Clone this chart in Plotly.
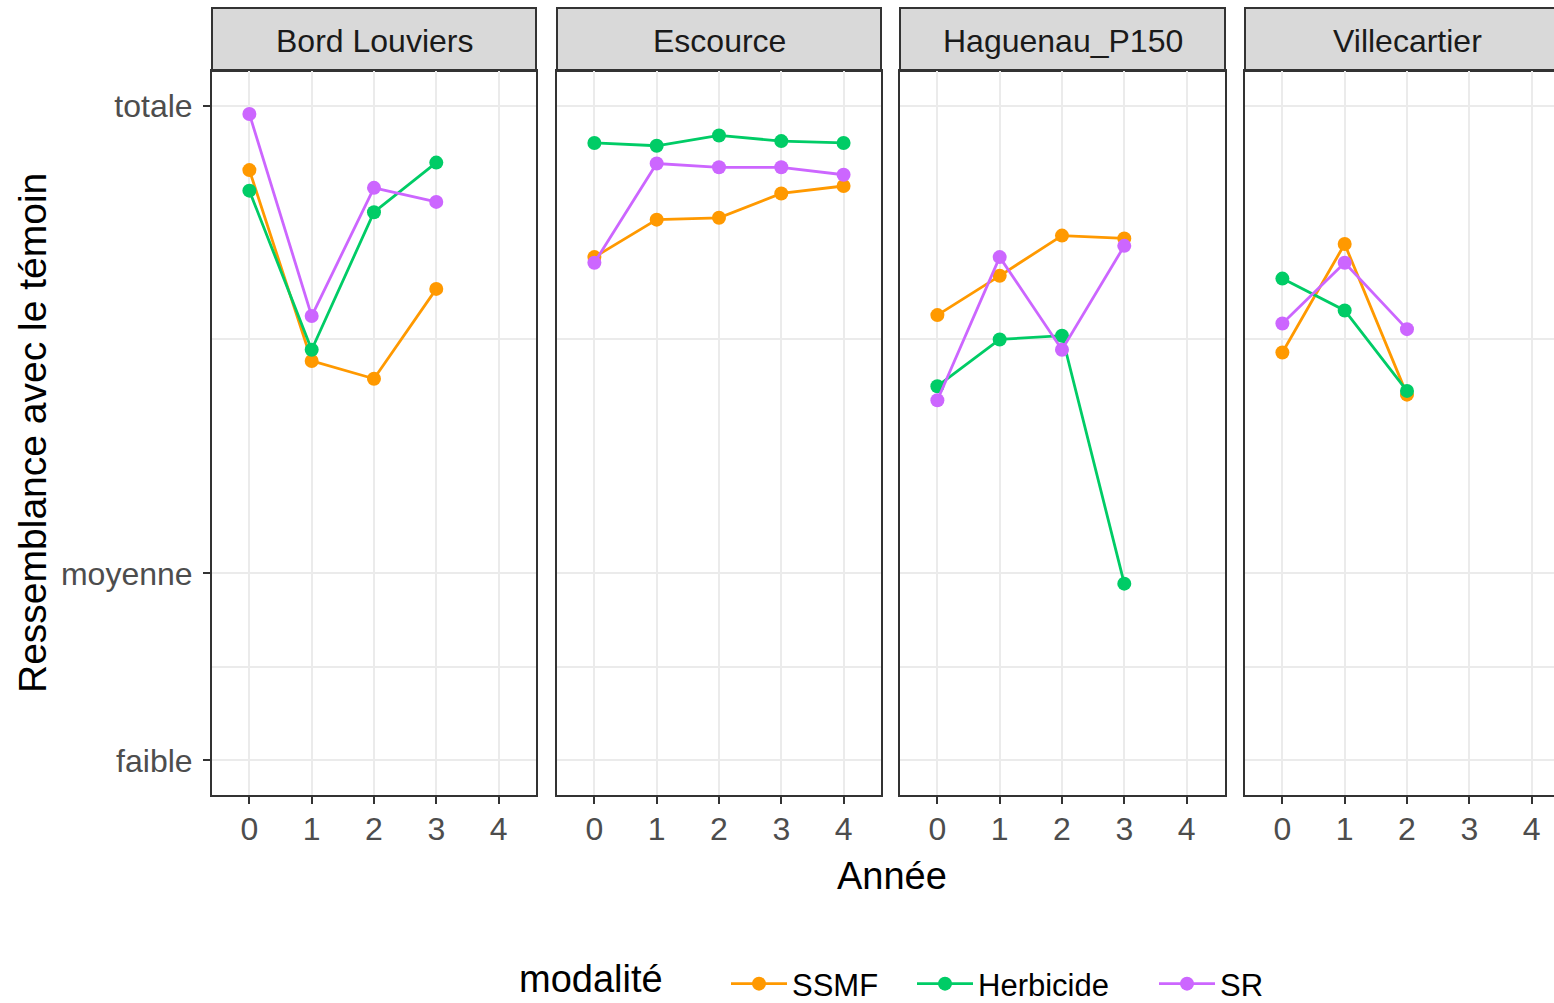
import plotly.graph_objects as go

# données
sites = ["Bord Louviers", "Escource", "Haguenau_P150", "Villecartier"]
modalites = ["SSMF", "Herbicide", "SR"]
couleurs = ["#FF9900", "#00CC66", "#CC66FF"]

annees_bord = [0, 1, 2, 3]
bord_ssmf = [0.931, 0.727, 0.708, 0.804]
bord_herbicide = [0.909, 0.739, 0.886, 0.939]
bord_sr = [0.991, 0.775, 0.912, 0.897]

annees_escource = [0, 1, 2, 3, 4]
escource_ssmf = [0.838, 0.878, 0.880, 0.906, 0.914]
escource_herbicide = [0.960, 0.957, 0.968, 0.962, 0.960]
escource_sr = [0.832, 0.938, 0.934, 0.934, 0.926]

annees_haguenau = [0, 1, 2, 3]
haguenau_ssmf = [0.776, 0.818, 0.861, 0.858]
haguenau_herbicide = [0.700, 0.750, 0.754, 0.489]
haguenau_sr = [0.685, 0.838, 0.739, 0.850]

annees_ville = [0, 1, 2]
ville_ssmf = [0.736, 0.852, 0.691]
ville_herbicide = [0.815, 0.781, 0.695]
ville_sr = [0.767, 0.832, 0.761]

annees_ticks = [0, 1, 2, 3, 4]
niveaux_vals = [0.3, 0.5, 1.0]
niveaux_labels = ["faible", "moyenne", "totale"]
niveaux_mineurs = [0.4, 0.75]

donnees = [
    (annees_bord, [bord_ssmf, bord_herbicide, bord_sr]),
    (annees_escource, [escource_ssmf, escource_herbicide, escource_sr]),
    (annees_haguenau, [haguenau_ssmf, haguenau_herbicide, haguenau_sr]),
    (annees_ville, [ville_ssmf, ville_herbicide, ville_sr]),
]

W, H = 1554, 1003
FONT = "Liberation Sans, Arial, sans-serif"
panels_px = [(212, 536), (557, 881), (900, 1225), (1245, 1569)]
px_par_an = 62.3
y_dom = [1 - 795 / H, 1 - 71 / H]
y_range = [0.2631, 1.0369]
# une légende par modalité pour placer chaque entrée comme ggplot
legendes = ["legend", "legend2", "legend3"]
legendes_x = [726, 912, 1154]
leg_y = 984

fig = go.Figure()
layout = dict(
    width=W, height=H,
    margin=dict(l=0, r=0, t=0, b=0, autoexpand=False),
    paper_bgcolor="white", plot_bgcolor="white",
    font=dict(family=FONT, color="black"),
    shapes=[], annotations=[],
)

for i, (site, (annees, series)) in enumerate(zip(sites, donnees)):
    n = "" if i == 0 else str(i + 1)
    p0, p1 = panels_px[i]
    vis = min(p1, W)
    for j, (mod, col, vals) in enumerate(zip(modalites, couleurs, series)):
        fig.add_trace(go.Scatter(
            x=annees, y=vals, mode="lines+markers", name=mod,
            legend=legendes[j], showlegend=(i == 0),
            line=dict(color=col, width=2.8),
            marker=dict(color=col, size=14),
            xaxis="x" + n, yaxis="y" + n,
        ))
    layout["xaxis" + n] = dict(
        domain=[p0 / W, vis / W], range=[-0.6, -0.6 + (vis - p0) / px_par_an],
        anchor="y" + n, tickvals=annees_ticks, ticks="outside", ticklen=7,
        tickwidth=2, tickcolor="#333333",
        tickfont=dict(size=32, color="#4D4D4D"), ticklabelstandoff=-2,
        showgrid=True, gridcolor="#EBEBEB", gridwidth=2,
        showline=True, linecolor="#333333", linewidth=2, mirror=True,
        zeroline=False,
    )
    layout["yaxis" + n] = dict(
        domain=y_dom, range=y_range, anchor="x" + n,
        tickvals=niveaux_vals, ticktext=niveaux_labels,
        showticklabels=(i == 0), ticks="outside" if i == 0 else "",
        ticklen=7, tickwidth=2, tickcolor="#333333",
        tickfont=dict(size=32, color="#4D4D4D"), ticklabelstandoff=4,
        showgrid=True, gridcolor="#EBEBEB", gridwidth=2,
        minor=dict(tickmode="array", tickvals=niveaux_mineurs, showgrid=True,
                   gridcolor="#EBEBEB", gridwidth=2),
        showline=True, linecolor="#333333", linewidth=2, mirror=(i < 3),
        zeroline=False,
    )
    # bandeau du facet
    layout["shapes"].append(dict(
        type="rect", xref="paper", yref="paper",
        x0=p0 / W, x1=p1 / W, y0=1 - 71 / H, y1=1 - 8 / H,
        fillcolor="#D9D9D9", line=dict(color="#333333", width=2), layer="below",
    ))
    layout["annotations"].append(dict(
        text=site, xref="paper", yref="paper", x=(p0 + p1) / 2 / W, y=1 - 41 / H,
        xanchor="center", yanchor="middle", showarrow=False,
        font=dict(size=32, color="#1A1A1A"),
    ))

layout["annotations"] += [
    dict(text="Ressemblance avec le témoin", xref="paper", yref="paper",
         x=32 / W, y=1 - 433 / H, textangle=-90, showarrow=False,
         xanchor="center", yanchor="middle", font=dict(size=39, color="black")),
    dict(text="Année", xref="paper", yref="paper",
         x=892 / W, y=1 - 876 / H, showarrow=False,
         xanchor="center", yanchor="middle", font=dict(size=38, color="black")),
    dict(text="modalité", xref="paper", yref="paper",
         x=517 / W, y=1 - 979 / H, showarrow=False,
         xanchor="left", yanchor="middle", font=dict(size=38, color="black")),
]

for leg, lx in zip(legendes, legendes_x):
    layout[leg] = dict(
        orientation="h", x=lx / W, xanchor="left", y=1 - leg_y / H, yanchor="middle",
        font=dict(size=31, color="black"), itemwidth=56, bgcolor="rgba(0,0,0,0)",
    )

fig.update_layout(**layout)
fig.write_html(
    "out.html",
    config={"displayModeBar": False},
    post_script="document.body.style.margin='0';document.body.style.overflow='hidden';",
)
